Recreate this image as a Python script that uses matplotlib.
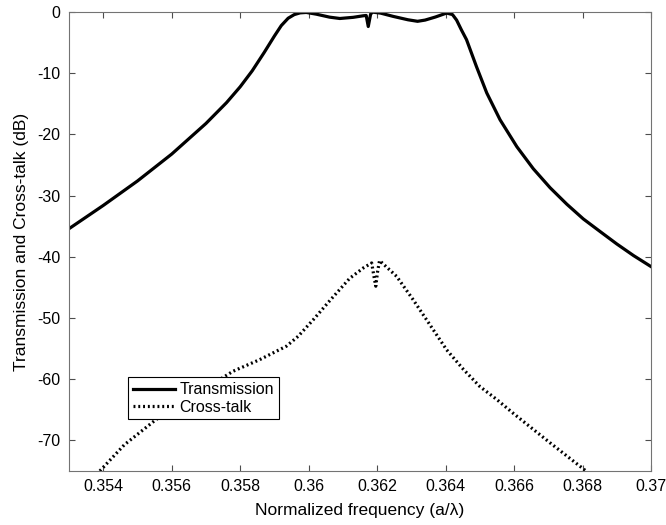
import matplotlib
matplotlib.use("Agg")
import matplotlib.pyplot as plt
from matplotlib.ticker import FormatStrFormatter, FuncFormatter

plt.rcParams["font.family"] = ["Liberation Sans", "DejaVu Sans"]

# transmission through the drop filter (dB)
transFreq = [0.3530, 0.3540, 0.3550, 0.3560, 0.3570, 0.3576, 0.3580,
             0.35835, 0.3587, 0.3590, 0.3592, 0.3594, 0.35958, 0.35975,
             0.35993, 0.36022, 0.36061, 0.36091, 0.3613, 0.36159, 0.36168,
             0.36174, 0.36181, 0.36187, 0.3621, 0.36247, 0.3629, 0.36318,
             0.3634, 0.3637, 0.36403, 0.3642, 0.36432, 0.36446, 0.36461,
             0.3649, 0.3652, 0.36559, 0.36608, 0.36656, 0.36705, 0.36754,
             0.36802, 0.36852, 0.3690, 0.36949, 0.3700]
transDB   = [-35.4, -31.6, -27.6, -23.2, -18.2, -14.8, -12.2,
             -9.6, -6.6, -3.9, -2.2, -1.0, -0.4, -0.12,
             -0.05, -0.33, -0.82, -1.04, -0.85, -0.6, -0.55,
             -2.35, -0.3, 0.0, -0.16, -0.7, -1.25, -1.5,
             -1.3, -0.8, -0.15, -0.4, -1.3, -2.9, -4.5,
             -8.9, -13.2, -17.6, -22.0, -25.6, -28.7, -31.4,
             -33.8, -35.9, -37.9, -39.8, -41.6]

# cross-talk into the other channel (dB)
xtalkFreq = [0.3539, 0.35462, 0.35554, 0.3567, 0.35779, 0.35857, 0.35935,
             0.35969, 0.36013, 0.36061, 0.3612, 0.3616, 0.36184, 0.3619,
             0.36196, 0.36201, 0.36207, 0.36257, 0.36305, 0.36354, 0.36403,
             0.36452, 0.3650, 0.36549, 0.36598, 0.36647, 0.36705, 0.3681]
xtalkDB   = [-75.0, -70.7, -66.6, -62.5, -58.7, -56.8, -54.6,
             -53.0, -50.3, -47.2, -43.5, -41.8, -41.0, -43.0,
             -44.8, -42.5, -40.6, -43.2, -47.0, -51.1, -55.2,
             -58.4, -61.2, -63.3, -65.6, -67.8, -70.4, -75.0]

xTicks = [0.354, 0.356, 0.358, 0.36, 0.362, 0.364, 0.366, 0.368, 0.37]
yTicks = [0, -10, -20, -30, -40, -50, -60, -70]

fig = plt.figure(figsize=(6.66, 5.25), dpi=100)
ax = fig.add_axes([0.1036, 0.1029, 0.874, 0.874])

ax.plot(transFreq, transDB, color="black", linewidth=2.3, label="Transmission")
ax.plot(xtalkFreq, xtalkDB, color="black", linewidth=2.3,
        linestyle=(0, (0.6, 0.9)), label="Cross-talk")

ax.set_xlim(0.353, 0.37)
ax.set_ylim(-75, 0)
ax.set_xticks(xTicks)
ax.set_yticks(yTicks)
ax.xaxis.set_major_formatter(FuncFormatter(lambda v, p: "%g" % v))
ax.yaxis.set_major_formatter(FormatStrFormatter("%d"))
ax.tick_params(direction="in", top=True, right=True, length=4, width=0.8,
               color="0.3", labelsize=11.5, pad=6)
for s in ax.spines.values():
    s.set_color("0.45")
    s.set_linewidth(0.8)

ax.set_xlabel("Normalized frequency (a/\u03bb)", fontsize=12.5, labelpad=6)
ax.set_ylabel("Transmission and Cross-talk (dB)", fontsize=12.5, labelpad=6)

leg = ax.legend(loc="lower left", bbox_to_anchor=(0.102, 0.1126),
                borderaxespad=0, fontsize=11.5, handlelength=2.6,
                handletextpad=0.3, borderpad=0.3, labelspacing=0.15,
                fancybox=False, framealpha=1)
leg.get_frame().set_edgecolor("black")
leg.get_frame().set_linewidth(0.8)

fig.savefig("out.png", dpi=100)
